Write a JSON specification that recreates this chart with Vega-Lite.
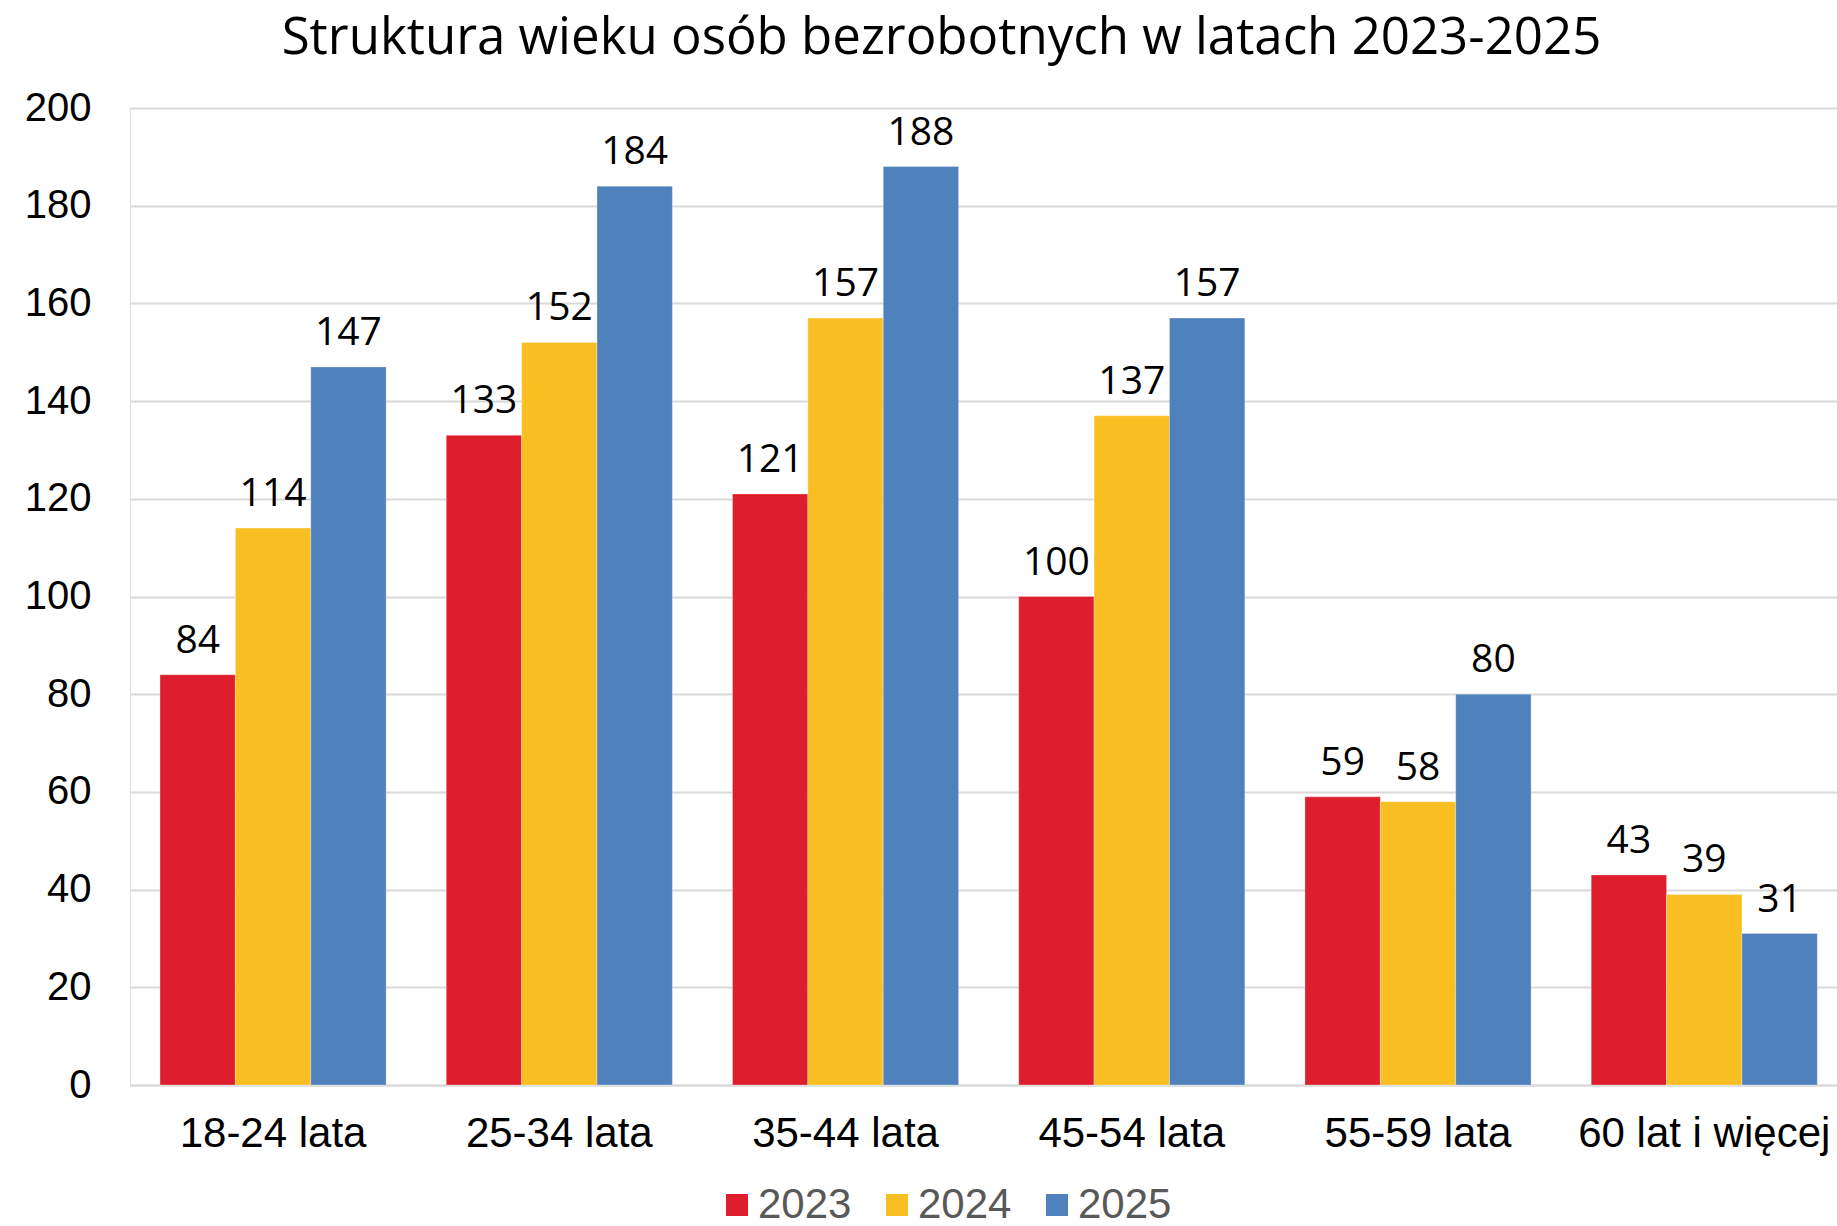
{
  "$schema": "https://vega.github.io/schema/vega-lite/v6.json",
  "autosize": "none",
  "width": 1707,
  "height": 977,
  "padding": {"left": 130, "top": 108, "right": 0, "bottom": 141},
  "background": "white",
  "title": {
    "text": "Struktura wieku osób bezrobotnych w latach 2023-2025",
    "font": "Open Sans",
    "fontSize": 51,
    "fontWeight": "normal",
    "color": "#000000",
    "anchor": "middle",
    "frame": "group",
    "dx": -42,
    "offset": 23
  },
  "data": {
    "values": [
      {"grupa": "18-24 lata", "rok": "2023", "liczba": 84},
      {"grupa": "18-24 lata", "rok": "2024", "liczba": 114},
      {"grupa": "18-24 lata", "rok": "2025", "liczba": 147},
      {"grupa": "25-34 lata", "rok": "2023", "liczba": 133},
      {"grupa": "25-34 lata", "rok": "2024", "liczba": 152},
      {"grupa": "25-34 lata", "rok": "2025", "liczba": 184},
      {"grupa": "35-44 lata", "rok": "2023", "liczba": 121},
      {"grupa": "35-44 lata", "rok": "2024", "liczba": 157},
      {"grupa": "35-44 lata", "rok": "2025", "liczba": 188},
      {"grupa": "45-54 lata", "rok": "2023", "liczba": 100},
      {"grupa": "45-54 lata", "rok": "2024", "liczba": 137},
      {"grupa": "45-54 lata", "rok": "2025", "liczba": 157},
      {"grupa": "55-59 lata", "rok": "2023", "liczba": 59},
      {"grupa": "55-59 lata", "rok": "2024", "liczba": 58},
      {"grupa": "55-59 lata", "rok": "2025", "liczba": 80},
      {"grupa": "60 lat i więcej", "rok": "2023", "liczba": 43},
      {"grupa": "60 lat i więcej", "rok": "2024", "liczba": 39},
      {"grupa": "60 lat i więcej", "rok": "2025", "liczba": 31}
    ]
  },
  "encoding": {
    "x": {
      "field": "grupa",
      "type": "nominal",
      "sort": null,
      "title": null,
      "scale": {"paddingInner": 0.21, "paddingOuter": 0.0868, "align": 0.604},
      "axis": {
        "labelAngle": 0,
        "labelFont": "Liberation Sans",
        "labelFontSize": 42,
        "labelColor": "#000000",
        "labelPadding": 28,
        "labelLimit": 0,
        "ticks": false,
        "domainColor": "#D9D9D9",
        "domainWidth": 2,
        "grid": false,
        "labelOverlap": false,
        "labelBound": false
      }
    },
    "xOffset": {
      "field": "rok",
      "type": "nominal",
      "sort": ["2023", "2024", "2025"],
      "scale": {"paddingInner": 0, "paddingOuter": 0}
    },
    "y": {
      "field": "liczba",
      "type": "quantitative",
      "title": null,
      "scale": {"domain": [0, 200], "nice": false},
      "axis": {
        "values": [0, 20, 40, 60, 80, 100, 120, 140, 160, 180, 200],
        "labelFont": "Liberation Sans",
        "labelFontSize": 40,
        "labelColor": "#000000",
        "labelPadding": 39,
        "ticks": false,
        "domain": false,
        "grid": true,
        "gridColor": "#D9D9D9",
        "gridWidth": 2
      }
    }
  },
  "layer": [
    {
      "mark": {"type": "bar", "stroke": "white", "strokeWidth": 0.5, "strokeOpacity": 0.6},
      "encoding": {
        "color": {
          "field": "rok",
          "type": "nominal",
          "sort": ["2023", "2024", "2025"],
          "scale": {"domain": ["2023", "2024", "2025"], "range": ["#DF1E2D", "#F9BE21", "#4F81BD"]},
          "legend": {
            "title": null,
            "orient": "none",
            "direction": "horizontal",
            "legendX": 586,
            "legendY": 1076,
            "padding": 0,
            "symbolType": "square",
            "symbolSize": 484,
            "symbolStrokeWidth": 0,
            "labelFont": "Liberation Sans",
            "labelFontSize": 42,
            "labelColor": "#595959",
            "labelOffset": 0,
            "columnPadding": 24
          }
        }
      }
    },
    {
      "mark": {
        "type": "text",
        "font": "Open Sans",
        "fontSize": 39,
        "color": "#000000",
        "baseline": "alphabetic",
        "align": "center",
        "dy": -22
      },
      "encoding": {
        "text": {"field": "liczba", "type": "quantitative"}
      }
    }
  ]
}
